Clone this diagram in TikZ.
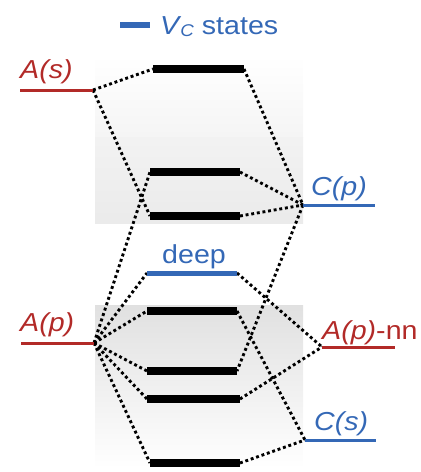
\documentclass[tikz,border=0pt]{standalone}
\usepackage{fontspec}
\setmainfont{Liberation Sans}
\definecolor{lvred}{RGB}{178,42,40}
\definecolor{lvblue}{RGB}{52,104,182}
\tikzset{
  lvbar/.style={line width=7.5pt,black},
  redlvl/.style={line width=3pt,lvred},
  bluelvl/.style={line width=3pt,lvblue},
  conn/.style={line width=2.9pt,black,dash pattern=on 2.9pt off 2.8pt},
  lbl/.style={inner sep=0pt,anchor=base west,font=\fontsize{26}{31}\selectfont},
}
\newcommand{\wideT}[1]{\scalebox{1.1}[1]{#1}}
\begin{document}
\begin{tikzpicture}[x=1pt,y=-1pt]
\useasboundingbox (0,0) rectangle (421,472);
% gray panels
\shade[top color=white, bottom color=gray!8] (95,55) rectangle (303,137);
\shade[top color=gray!10, bottom color=gray!16] (95,137) rectangle (303,223);
\shade[top color=gray!24, bottom color=white] (95,305) rectangle (303,468);
% legend
\coordinate (legl) at (120,25);
\coordinate (legr) at (150,25);
\draw[line width=6pt,lvblue] (legl) -- (legr);
\node[lbl,text=lvblue] (leg) at (160,34) {\wideT{\textit{V}\kern-1pt\raisebox{-0.2ex}{\fontsize{17}{20}\selectfont\textit{C}} states}};
% levels endpoints
\coordinate (Asl) at (20,90);   \coordinate (Asr) at (93,90);
\coordinate (Apl) at (21,343);  \coordinate (Apr) at (94,343);
\coordinate (Cpl) at (303,205); \coordinate (Cpr) at (375,205);
\coordinate (Nnl) at (322,347); \coordinate (Nnr) at (395,347);
\coordinate (Csl) at (305,440); \coordinate (Csr) at (376,440);
\coordinate (dpl) at (147,273); \coordinate (dpr) at (237,273);
\coordinate (b1l) at (153,69);  \coordinate (b1r) at (244,69);
\coordinate (b2l) at (150,172); \coordinate (b2r) at (240,172);
\coordinate (b3l) at (150,216); \coordinate (b3r) at (240,216);
\coordinate (b4l) at (147,311); \coordinate (b4r) at (237,311);
\coordinate (b5l) at (147,371); \coordinate (b5r) at (237,371);
\coordinate (b6l) at (147,399); \coordinate (b6r) at (240,399);
\coordinate (b7l) at (150,463); \coordinate (b7r) at (240,463);
% connectors
\draw[conn] (Asr) -- (b1l);
\draw[conn] (Asr) -- (b3l);
\draw[conn] (b1r) -- (Cpl);
\draw[conn] (b2r) -- (Cpl);
\draw[conn] (b3r) -- (Cpl);
\draw[conn] (Cpl) -- (b5r);
\draw[conn] (Apr) -- (b2l);
\draw[conn] (Apr) -- (dpl);
\draw[conn] (Apr) -- (b4l);
\draw[conn] (Apr) -- (b5l);
\draw[conn] (Apr) -- (b6l);
\draw[conn] (Apr) -- (b7l);
\draw[conn] (dpr) -- (Nnl);
\draw[conn] (b4r) -- (Csl);
\draw[conn] (b6r) -- (Nnl);
\draw[conn] (b7r) -- (Csl);
% level lines
\draw[redlvl] (Asl) -- (Asr);
\draw[redlvl] (Apl) -- (Apr);
\draw[bluelvl] (Cpl) -- (Cpr);
\draw[redlvl] (Nnl) -- (Nnr);
\draw[bluelvl] (Csl) -- (Csr);
\draw[line width=5pt,lvblue] (dpl) -- (dpr);
\foreach \i in {1,...,7} \draw[lvbar] (b\i l) -- (b\i r);
% labels
\node[lbl,text=lvred] (lAs) at (20,78) {\wideT{\textit{A(s)}}};
\node[lbl,text=lvred] (lAp) at (20,331) {\wideT{\textit{A(p)}}};
\node[lbl,text=lvblue] (lCp) at (311,195) {\wideT{\textit{C(p)}}};
\node[lbl,text=lvred] (lNn) at (322,339) {\wideT{\textit{A(p)}-nn}};
\node[lbl,text=lvblue] (lCs) at (314,430) {\wideT{\textit{C(s)}}};
\node[lbl,text=lvblue] (ldp) at (162,263) {\wideT{deep}};
\end{tikzpicture}
\end{document}
